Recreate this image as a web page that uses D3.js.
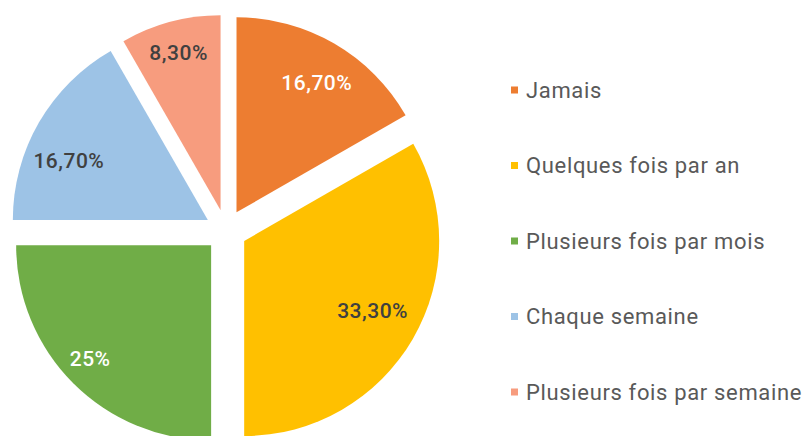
<!DOCTYPE html>
<meta charset="utf-8">
<script src="https://d3js.org/d3.v7.min.js"></script>
<style>
    body { margin: 0; background: #fff; }
    .legend text { font-family: Roboto, sans-serif; font-size: 22px; letter-spacing: 0.65px; fill: #595959; }
    .label { font-family: Roboto, sans-serif; font-size: 21px; font-weight: 500; letter-spacing: 0.5px; }
</style>
<div id="chart"></div>
<script>
const categories = ["Jamais", "Quelques fois par an", "Plusieurs fois par mois", "Chaque semaine", "Plusieurs fois par semaine"];
const values = [16.7, 33.3, 25, 16.7, 8.3];
const labels = ["16,70%", "33,30%", "25%", "16,70%", "8,30%"];
const colors = ["#ED7D31", "#FFC000", "#70AD47", "#9DC3E6", "#F79C7E"];
const labelColors = ["#ffffff", "#404040", "#ffffff", "#404040", "#404040"];

const width = 805, height = 436;
const cx = 226, cy = 230.5, radius = 195, explode = 21;

// label placement inside each slice: [fraction of radius, angle shift in degrees]
const labelPlace = [[0.78, 1.8], [0.75, -1.5], [0.85, 1.9], [0.775, -6.9], [0.835, 0]];

const svg = d3.select("#chart").append("svg")
    .attr("width", width)
    .attr("height", height);

const pie = d3.pie().sort(null).value(d => d.value);
const arc = d3.arc().innerRadius(0).outerRadius(radius);

const data = categories.map((c, i) => ({ name: c, value: values[i], label: labels[i], color: colors[i], lc: labelColors[i], place: labelPlace[i] }));

const slices = svg.append("g")
    .attr("transform", "translate(" + cx + "," + cy + ")")
    .selectAll("g")
    .data(pie(data))
    .join("g")
    .attr("transform", d => {
        const a = (d.startAngle + d.endAngle) / 2;
        return "translate(" + (Math.sin(a) * explode) + "," + (-Math.cos(a) * explode) + ")";
    });

slices.append("path")
    .attr("d", arc)
    .attr("fill", d => d.data.color);

slices.append("text")
    .attr("class", "label")
    .attr("transform", d => {
        const a = (d.startAngle + d.endAngle) / 2 + d.data.place[1] * Math.PI / 180;
        const r = radius * d.data.place[0];
        return "translate(" + (Math.sin(a) * r) + "," + (-Math.cos(a) * r) + ")";
    })
    .attr("text-anchor", "middle")
    .attr("dy", "0.35em")
    .attr("fill", d => d.data.lc)
    .text(d => d.data.label);

// legend
const legendY = d3.scalePoint().domain(categories).range([90, 392]);

const legend = svg.append("g").attr("class", "legend")
    .selectAll("g")
    .data(data)
    .join("g")
    .attr("transform", d => "translate(511," + legendY(d.name) + ")");

legend.append("rect")
    .attr("x", 0).attr("y", -3.5)
    .attr("width", 7).attr("height", 7)
    .attr("fill", d => d.color);

legend.append("text")
    .attr("x", 15)
    .attr("dy", "0.35em")
    .text(d => d.name);
</script>
